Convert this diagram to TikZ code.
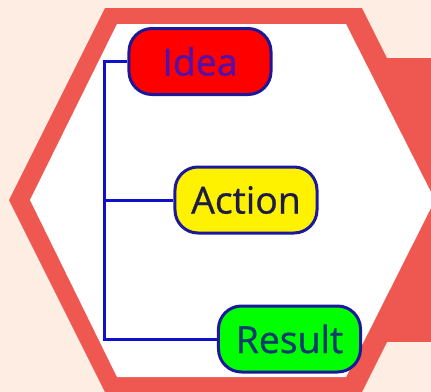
\documentclass[tikz,border=0pt]{standalone}
\usepackage{fontspec}
\setmainfont{Open Sans}[BoldFont=Open Sans, BoldFeatures={FakeBold=0.8}]
\definecolor{peach}{RGB}{253,237,227}
\definecolor{coral}{RGB}{238,88,80}
\definecolor{navyline}{RGB}{28,24,156}
\definecolor{treeblue}{RGB}{16,16,200}
\begin{document}
\begin{tikzpicture}[x=1bp, y=-1bp,
	stage/.style={draw=navyline, line width=3bp, rounded corners=23bp,
		minimum width=142bp, minimum height=66bp, inner sep=0pt,
		font=\fontsize{37.5}{40}\bfseries},
	branch/.style={draw=treeblue, line width=3bp}]
	\useasboundingbox (0,0) rectangle (431,392);
	\fill[peach] (0,0) rectangle (431,392);
	
	\fill[coral] (386,58) rectangle (431,342);
	\fill[coral] (105,8) -- (362,8) -- (458,200) -- (362,392) -- (105,392) -- (9,200) -- cycle;
	\fill[white] (117,24) -- (346,24) -- (435,200) -- (346,377) -- (117,377) -- (30,200) -- cycle;
	
	\node[stage, fill=red, text={rgb,255:red,84;green,16;blue,170}] (idea) at (200,61.5) {Idea};
	\node[stage, fill=yellow, text={rgb,255:red,28;green,28;blue,70}] (action) at (246,200) {Action};
	\node[stage, fill={rgb,255:red,0;green,255;blue,0}, text={rgb,255:red,16;green,60;blue,110}] (result) at (289.5,339) {Result};
	
	\coordinate (stem) at (104,200);
	\draw[branch] (idea.west) -| (stem) |- (result.west);
	\draw[branch] (stem) -- (action.west);
\end{tikzpicture}
\end{document}
